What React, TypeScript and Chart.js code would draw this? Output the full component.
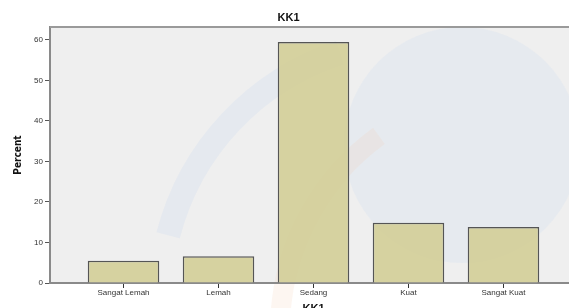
import React, { useEffect, useRef } from "react";
import { Chart, registerables } from "chart.js";

Chart.register(...registerables);

const categories = ["Sangat Lemah", "Lemah", "Sedang", "Kuat", "Sangat Kuat"];
const percents = [5.5, 6.6, 59.5, 14.9, 13.8];
const yTicks = [0, 10, 20, 30, 40, 50, 60];
const chartTitle = "KK1";
const xTitle = "KK1";
const yTitle = "Percent";

const bgPlugin = {
  id: "bgPlugin",
  beforeDraw(chart: any) {
    const { ctx, chartArea } = chart;
    const { left, top, right, bottom } = chartArea;
    ctx.save();
    ctx.fillStyle = "#ffffff";
    ctx.fillRect(0, 0, chart.width, chart.height);
    ctx.fillStyle = "#efefef";
    ctx.fillRect(left, top, right - left, bottom - top);
    // faint watermark
    ctx.fillStyle = "rgba(215,225,242,0.35)";
    ctx.beginPath();
    ctx.arc(462, 145, 118, 0, Math.PI * 2);
    ctx.fill();
    ctx.strokeStyle = "rgba(200,215,240,0.25)";
    ctx.lineWidth = 24;
    ctx.beginPath();
    ctx.arc(420, 300, 260, Math.PI * 1.08, Math.PI * 1.4);
    ctx.stroke();
    ctx.strokeStyle = "rgba(245,205,175,0.18)";
    ctx.lineWidth = 20;
    ctx.beginPath();
    ctx.arc(520, 330, 240, Math.PI * 1.02, Math.PI * 1.3);
    ctx.stroke();
    ctx.restore();
  },
  afterDraw(chart: any) {
    const { ctx, chartArea } = chart;
    ctx.save();
    ctx.strokeStyle = "#9a9a9a";
    ctx.lineWidth = 2;
    ctx.beginPath();
    ctx.moveTo(chartArea.left, chartArea.top);
    ctx.lineTo(chart.width, chartArea.top);
    ctx.stroke();
    ctx.fillStyle = "#111";
    ctx.font = "bold 11px 'Liberation Sans', Arial, sans-serif";
    ctx.textAlign = "center";
    ctx.textBaseline = "middle";
    ctx.fillText(chartTitle, chart.width / 2, 18);
    ctx.restore();
  },
};

export default function App() {
  const ref = useRef<HTMLCanvasElement | null>(null);
  useEffect(() => {
    if (!ref.current) return;
    const chart = new Chart(ref.current, {
      type: "bar",
      data: {
        datasets: [
          {
            data: percents.map((v, i) => ({ x: i, y: v })),
            backgroundColor: "rgba(212,208,155,0.95)",
            borderColor: "#555555",
            borderWidth: 1.5,
            barPercentage: 0.753,
            categoryPercentage: 1,
          },
        ],
      },
      options: {
        animation: false,
        responsive: false,
        maintainAspectRatio: false,
        layout: { padding: { top: 27, left: 0, right: 0, bottom: 0 } },
        plugins: {
          legend: { display: false },
          tooltip: { enabled: false },
          title: { display: false },
        },
        scales: {
          x: {
            type: "linear",
            offset: false,
            min: -0.774,
            max: 4.774,
            afterBuildTicks: (s: any) => {
              s.ticks = categories.map((_, i) => ({ value: i }));
            },
            afterFit: (s: any) => {
              s.height = 33;
            },
            ticks: {
              callback: (v: any) => categories[v] ?? "",
              font: { size: 8, family: "'Liberation Sans', Arial, sans-serif" },
              color: "#333",
              padding: 0,
              maxRotation: 0,
              autoSkip: false,
            },
            grid: {
              drawOnChartArea: false,
              drawTicks: true,
              offset: false,
              tickLength: 5,
              color: "#333",
            },
            border: { color: "#8a8a8a", width: 2 },
            title: {
              display: true,
              text: xTitle,
              font: { size: 11, weight: "bold", family: "'Liberation Sans', Arial, sans-serif" },
              color: "#111",
              padding: { top: 3, bottom: 0 },
            },
          },
          y: {
            min: 0,
            max: 63.2,
            afterBuildTicks: (s: any) => {
              s.ticks = yTicks.map((v) => ({ value: v }));
            },
            afterFit: (s: any) => {
              s.width = 50;
            },
            ticks: {
              font: { size: 8, family: "'Liberation Sans', Arial, sans-serif" },
              color: "#333",
              padding: 2,
            },
            grid: {
              drawOnChartArea: false,
              drawTicks: true,
              tickLength: 5,
              color: "#555",
            },
            border: { color: "#8a8a8a", width: 2 },
            title: {
              display: true,
              text: yTitle,
              font: { size: 10, weight: "bold", family: "'DejaVu Sans Condensed', 'Liberation Sans Narrow', 'Liberation Sans', Arial, sans-serif" },
              color: "#111",
              padding: { top: 12, bottom: 0 },
            },
          },
        },
      },
      plugins: [bgPlugin],
    });
    return () => chart.destroy();
  }, []);
  return (
    <div style={{ position: "fixed", left: 0, top: 0, width: 569, height: 308, overflow: "hidden", background: "#fff" }}>
      <canvas ref={ref} width={577} height={316} style={{ width: 577, height: 316, display: "block" }} />
    </div>
  );
}
